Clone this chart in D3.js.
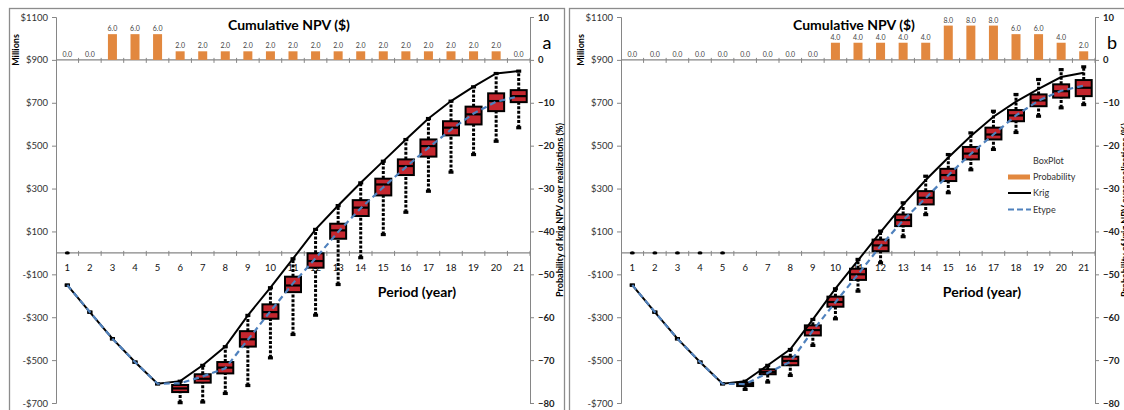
<!DOCTYPE html>
<html>
<head>
<meta charset="utf-8">
<script src="https://cdn.jsdelivr.net/npm/d3@7"></script>
<style>
body{margin:0;background:#fff;}
svg{display:block;font-family:Lato,"Open Sans",sans-serif;}
</style>
</head>
<body>
<svg id="chart"></svg>
<script>
const W=1124,H=410;

// ---------- data ----------
const years=[1,2,3,4,5,6,7,8,9,10,11,12,13,14,15,16,17,18,19,20,21];
const leftTicks=[1100,900,700,500,300,100,-100,-300,-500,-700];
const rightTicks=[10,0,-10,-20,-30,-40,-50,-60,-70,-80];

const probA=[0,0,6,6,6,2,2,2,2,2,2,2,2,2,2,2,2,2,2,2,0];
const probB=[0,0,0,0,0,0,0,0,0,4,4,4,4,4,8,8,8,6,6,4,2];

const krigA=[-150,-276,-400,-509,-610,-598,-524,-437,-291,-162,-27,110,221,327,428,529,627,708,775,837,848];
const krigB=[-150,-276,-400,-509,-610,-598,-524,-450,-310,-167,-35,97,225,340,445,545,635,705,765,820,840];

const etypeA=[-150,-276,-400,-509,-610,-608,-576,-538,-405,-272,-142,-25,98,208,306,400,490,575,650,705,730];
const etypeB=[-150,-276,-400,-509,-610,-612,-560,-508,-362,-230,-100,32,152,256,362,462,552,641,710,756,780];

// [min, q1, median, q3, max]
const boxA=[
  [-150,-150,-150,-150,-150],[-276,-276,-276,-276,-276],[-400,-400,-400,-400,-400],
  [-509,-509,-509,-509,-509],[-610,-610,-610,-610,-610],
  [-698,-649,-632,-616,-598],[-695,-605,-587,-566,-524],[-655,-562,-535,-509,-437],
  [-618,-437,-403,-365,-291],[-489,-307,-276,-240,-162],[-380,-183,-152,-111,-27],
  [-290,-69,-38,-2,110],[-147,66,105,136,221],[-22,172,211,246,327],
  [86,268,319,346,428],[190,363,405,436,529],[288,449,498,529,627],
  [377,548,584,614,708],[459,599,646,682,775],[521,661,708,744,837],[584,703,731,759,848]
];
const boxB=[
  [-150,-150,-150,-150,-150],[-276,-276,-276,-276,-276],[-400,-400,-400,-400,-400],
  [-509,-509,-509,-509,-509],[-610,-610,-610,-610,-610],
  [-636,-621,-613,-605,-598],[-602,-566,-556,-543,-524],[-571,-524,-504,-484,-450],
  [-431,-385,-360,-338,-310],[-307,-251,-229,-204,-167],[-178,-126,-100,-74,-30],
  [-46,8,35,62,102],[76,125,153,179,234],[179,226,257,288,358],
  [281,335,363,392,459],[388,436,463,494,560],[483,529,552,584,661],
  [562,614,641,666,739],[638,684,711,739,809],[677,724,754,786,855],[692,731,770,806,868]
];
// small markers sitting on the $0 line
const zeroMarksA=[1];
const zeroMarksB=[1,2,3,4,5];

const ORANGE="#E2883F",RED="#C4262E",BLUE="#4F81BD",AXIS="#868686";

const svg=d3.select("#chart").attr("width",W).attr("height",H);

const panels=[
  {label:"a",off:0,prob:probA,krig:krigA,etype:etypeA,box:boxA,zero:zeroMarksA,legend:false},
  {label:"b",off:565,prob:probB,krig:krigB,etype:etypeB,box:boxB,zero:zeroMarksB,legend:true}
];

// ---------- panels ----------
panels.forEach(p=>{
  const g=svg.append("g");
  const off=p.off;
  const x=d3.scaleBand().domain(years).range([56+off,530+off]).padding(0);
  const y=d3.scaleLinear().domain([-700,1100]).range([403,17]);
  const y2=d3.scaleLinear().domain([-80,10]).range([403,17]);
  const bw=x.bandwidth();
  const cx=d=>x(d)+bw/2;

  // frame
  g.append("rect")
    .attr("x",(off?569.5:9.5)).attr("y",8.5)
    .attr("width",off?560:555).attr("height",420)
    .attr("fill","none").attr("stroke","#8c8c8c").attr("stroke-width",1.3);

  // left axis
  const la=g.append("g").attr("transform",`translate(${56+off},0)`)
    .call(d3.axisLeft(y).tickValues(leftTicks).tickSize(4).tickPadding(4)
      .tickFormat(d=>d<0?"-$"+(-d):"$"+d));
  la.selectAll("path,line").attr("stroke",AXIS);
  la.selectAll("text").attr("font-size",9.5).attr("fill","#333").attr("font-family","Lato,sans-serif");

  // right axis
  const ra=g.append("g").attr("transform",`translate(${530+off},0)`)
    .call(d3.axisRight(y2).tickValues(rightTicks).tickSize(4).tickPadding(4));
  ra.selectAll("path,line").attr("stroke",AXIS);
  ra.selectAll("text").attr("font-size",9.5).attr("font-weight","bold").attr("fill","#222").attr("font-family","Lato,sans-serif");

  // category axes at $0 and at $900
  [y(0),y(900)].forEach(yy=>{
    g.append("line").attr("x1",56+off).attr("x2",530+off)
      .attr("y1",yy).attr("y2",yy).attr("stroke",AXIS).attr("stroke-width",1.3);
    years.forEach(d=>{
      g.append("line").attr("x1",x(d)+bw).attr("x2",x(d)+bw)
        .attr("y1",yy-2).attr("y2",yy+3).attr("stroke",AXIS);
    });
  });
  g.selectAll(".cat").data(years).join("text")
    .attr("x",d=>cx(d)).attr("y",y(0)+18)
    .attr("text-anchor","middle").attr("font-size",9.5).attr("fill","#111")
    .text(d=>d);

  // probability bars
  g.selectAll(".bar").data(years).join("rect")
    .attr("x",d=>cx(d)-4.5).attr("width",9)
    .attr("y",(d,i)=>y2(p.prob[i])).attr("height",(d,i)=>y2(0)-y2(p.prob[i]))
    .attr("fill",ORANGE);
  g.selectAll(".blab").data(years).join("text")
    .attr("x",d=>cx(d)).attr("y",(d,i)=>y2(p.prob[i])-3)
    .attr("text-anchor","middle").attr("font-size",7).attr("fill","#444")
    .text((d,i)=>p.prob[i].toFixed(1));

  // zero markers
  p.zero.forEach(d=>{
    g.append("ellipse").attr("cx",cx(d)).attr("cy",y(0)).attr("rx",2.5).attr("ry",1.6).attr("fill","#000");
  });

  // ---------- box plots ----------
  years.forEach((d,i)=>{
    const [mn,q1,md,q3,mx]=p.box[i];
    const c=cx(d);
    if(q3>q1){
      g.append("line").attr("x1",c).attr("x2",c).attr("y1",y(mn)).attr("y2",y(q1))
        .attr("stroke","#000").attr("stroke-width",3).attr("stroke-dasharray","3,1.6");
      g.append("line").attr("x1",c).attr("x2",c).attr("y1",y(q3)).attr("y2",y(mx))
        .attr("stroke","#000").attr("stroke-width",3).attr("stroke-dasharray","3,1.6");
      g.append("rect").attr("x",c-8).attr("width",16)
        .attr("y",y(q3)).attr("height",y(q1)-y(q3))
        .attr("fill",RED).attr("stroke","#000").attr("stroke-width",2);
      g.append("line").attr("x1",c-8).attr("x2",c+8).attr("y1",y(md)).attr("y2",y(md))
        .attr("stroke","#000").attr("stroke-width",2.2);
    }
    [mn,mx].forEach(v=>{
      g.append("rect").attr("x",c-2.5).attr("y",y(v)-1.5).attr("width",5).attr("height",3.2).attr("fill","#000");
    });
  });

  // ---------- lines ----------
  const line=d3.line().x(d=>cx(d[0])).y(d=>y(d[1]));
  g.append("path").datum(years.map((d,i)=>[d,p.krig[i]]))
    .attr("d",line).attr("fill","none").attr("stroke","#000").attr("stroke-width",2);
  g.append("path").datum(years.map((d,i)=>[d,p.etype[i]]))
    .attr("d",line).attr("fill","none").attr("stroke",BLUE).attr("stroke-width",2.2)
    .attr("stroke-dasharray","6,4");

  // ---------- titles ----------
  g.append("text").attr("x",289+off).attr("y",30).attr("text-anchor","middle")
    .attr("font-size",14).attr("font-weight","bold").attr("fill","#000").text("Cumulative NPV ($)");
  g.append("text").attr("transform",`translate(${19+off},50) rotate(-90)`).attr("text-anchor","middle")
    .attr("font-size",9).attr("font-weight","bold").attr("fill","#000").text("Millions");
  g.append("text").attr("x",417+off).attr("y",297).attr("text-anchor","middle")
    .attr("font-size",14).attr("font-weight","bold").attr("fill","#000").text("Period (year)");
  g.append("text").attr("transform",`translate(${563+off},210) rotate(-90)`).attr("text-anchor","middle")
    .attr("font-size",9).attr("font-weight","bold").attr("fill","#000")
    .text("Probability of krig NPV over realizations (%)");
  g.append("text").attr("x",547+off).attr("y",49).attr("text-anchor","middle")
    .attr("font-size",18).attr("fill","#000").text(p.label);

  // ---------- legend ----------
  if(p.legend){
    const lg=g.append("g").attr("font-size",9).attr("fill","#333");
    lg.append("text").attr("x",1033).attr("y",164).text("BoxPlot");
    lg.append("rect").attr("x",1008).attr("y",174.5).attr("width",22).attr("height",5).attr("fill",ORANGE);
    lg.append("text").attr("x",1033).attr("y",180).text("Probability");
    lg.append("line").attr("x1",1008).attr("x2",1031).attr("y1",193).attr("y2",193).attr("stroke","#000").attr("stroke-width",2);
    lg.append("text").attr("x",1033).attr("y",196).text("Krig");
    lg.append("line").attr("x1",1008).attr("x2",1031).attr("y1",209.5).attr("y2",209.5)
      .attr("stroke",BLUE).attr("stroke-width",2.2).attr("stroke-dasharray","6,3");
    lg.append("text").attr("x",1033).attr("y",213).text("Etype");
  }
});
</script>
</body>
</html>
